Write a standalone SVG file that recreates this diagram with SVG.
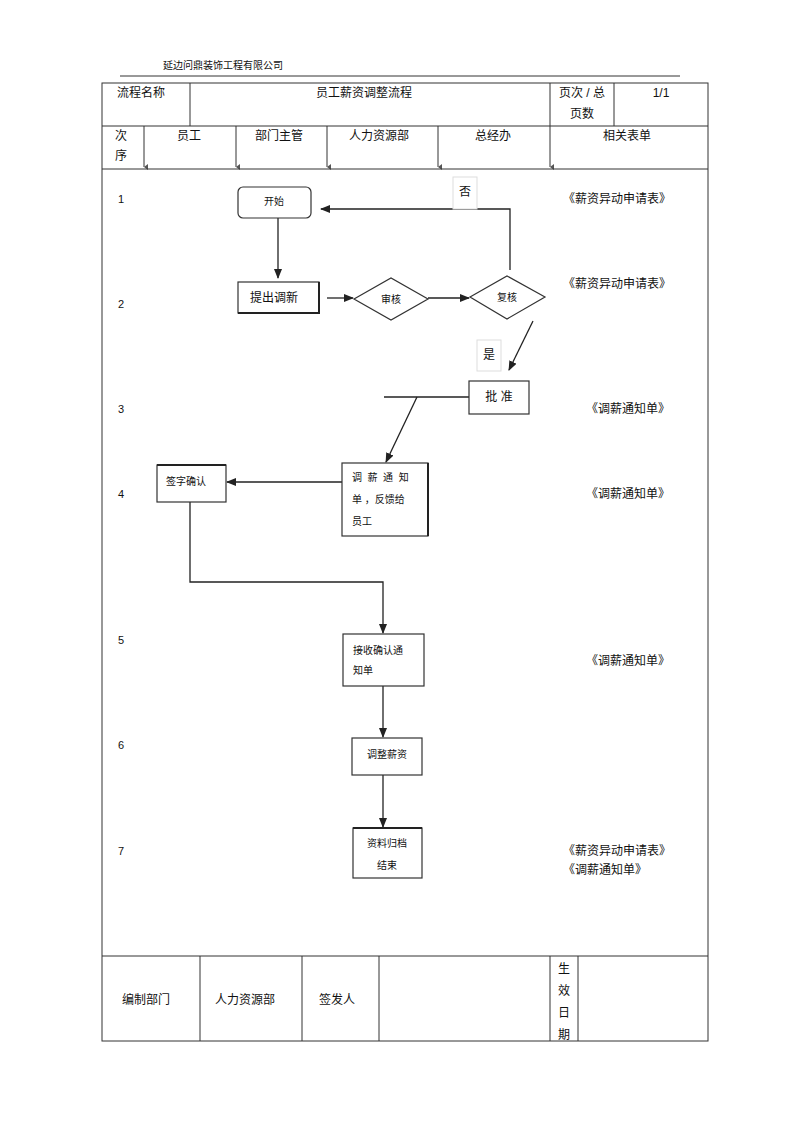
<svg xmlns="http://www.w3.org/2000/svg" width="800" height="1133" viewBox="0 0 800 1133">
<style>
text{font-family:"Liberation Sans","Noto Sans CJK SC",sans-serif;fill:#111}
.t12{font-size:12px}
.t11{font-size:11px}
.t10{font-size:10px}
.grid{stroke:#333;stroke-width:1;fill:none}
.box{fill:#fff;stroke:#333;stroke-width:1.2}
.edge{stroke:#222;stroke-width:1.3;fill:none}
.lbl{fill:#fff;stroke:#ddd;stroke-width:1}
</style>
<defs>
<marker id="ah" markerWidth="10" markerHeight="8" refX="9" refY="4" orient="auto" markerUnits="userSpaceOnUse">
<path d="M0,0 L10,4 L0,8 Z" fill="#222"/>
</marker>
<marker id="tk" markerWidth="6" markerHeight="4" refX="3" refY="4" orient="auto" markerUnits="userSpaceOnUse">
<path d="M0,0 L6,0 L3,4 Z" fill="#555"/>
</marker>
</defs>
<rect width="800" height="1133" fill="#fff"/>

<g id="header">
<text x="163" y="69" class="t10">延边问鼎装饰工程有限公司</text>
<line x1="120" y1="76" x2="680" y2="76" stroke="#333" stroke-width="1"/>
</g>

<g id="table">
<rect x="102" y="83" width="606" height="958" class="grid"/>
<line x1="190" y1="83" x2="190" y2="126" class="grid"/>
<line x1="550" y1="83" x2="550" y2="126" class="grid"/>
<line x1="614" y1="83" x2="614" y2="126" class="grid"/>
<line x1="102" y1="126" x2="708" y2="126" class="grid"/>
<line x1="144" y1="126" x2="144" y2="167" class="grid" marker-end="url(#tk)"/>
<line x1="236" y1="126" x2="236" y2="167" class="grid" marker-end="url(#tk)"/>
<line x1="327" y1="126" x2="327" y2="167" class="grid" marker-end="url(#tk)"/>
<line x1="438" y1="126" x2="438" y2="167" class="grid" marker-end="url(#tk)"/>
<line x1="550" y1="126" x2="550" y2="167" class="grid" marker-end="url(#tk)"/>
<line x1="102" y1="169" x2="708" y2="169" class="grid"/>
<line x1="102" y1="956" x2="708" y2="956" class="grid"/>
<line x1="200" y1="956" x2="200" y2="1041" class="grid"/>
<line x1="302" y1="956" x2="302" y2="1041" class="grid"/>
<line x1="379" y1="956" x2="379" y2="1041" class="grid"/>
<line x1="550" y1="956" x2="550" y2="1041" class="grid"/>
<line x1="578" y1="956" x2="578" y2="1041" class="grid"/>

<text x="117" y="97" class="t12">流程名称</text>
<text x="364" y="97" class="t12" text-anchor="middle">员工薪资调整流程</text>
<text x="559" y="97" class="t12">页次 / 总</text>
<text x="570" y="118" class="t12">页数</text>
<text x="661" y="97" class="t12" text-anchor="middle">1/1</text>
<text x="115" y="140" class="t12">次</text>
<text x="115" y="160" class="t12">序</text>
<text x="189" y="140" class="t12" text-anchor="middle">员工</text>
<text x="279" y="140" class="t12" text-anchor="middle">部门主管</text>
<text x="379" y="140" class="t12" text-anchor="middle">人力资源部</text>
<text x="493" y="140" class="t12" text-anchor="middle">总经办</text>
<text x="627" y="140" class="t12" text-anchor="middle">相关表单</text>

<text x="118" y="203" class="t11">1</text>
<text x="118" y="308" class="t11">2</text>
<text x="118" y="413" class="t11">3</text>
<text x="118" y="498" class="t11">4</text>
<text x="118" y="644" class="t11">5</text>
<text x="118" y="749" class="t11">6</text>
<text x="118" y="855" class="t11">7</text>

<text x="563" y="203" class="t12">《薪资异动申请表》</text>
<text x="563" y="288" class="t12">《薪资异动申请表》</text>
<text x="586" y="413" class="t12">《调薪通知单》</text>
<text x="586" y="498" class="t12">《调薪通知单》</text>
<text x="586" y="665" class="t12">《调薪通知单》</text>
<text x="563" y="855" class="t12">《薪资异动申请表》</text>
<text x="563" y="874" class="t12">《调薪通知单》</text>

<text x="122" y="1004" class="t12">编制部门</text>
<text x="215" y="1004" class="t12">人力资源部</text>
<text x="319" y="1004" class="t12">签发人</text>
<text x="558" y="973" class="t12">生</text>
<text x="558" y="995" class="t12">效</text>
<text x="558" y="1017" class="t12">日</text>
<text x="558" y="1039" class="t12">期</text>
</g>

<g id="connectors">
<line x1="278" y1="218" x2="278" y2="278" class="edge" marker-end="url(#ah)"/>
<line x1="327" y1="298" x2="353" y2="298" class="edge" marker-end="url(#ah)"/>
<line x1="428" y1="298" x2="469" y2="298" class="edge" marker-end="url(#ah)"/>
<polyline points="510,270 510,209 321,209" class="edge" marker-end="url(#ah)"/>
<line x1="533" y1="321" x2="509" y2="370" class="edge" marker-end="url(#ah)"/>
<line x1="384" y1="397" x2="469" y2="397" class="edge"/>
<line x1="417" y1="397" x2="386" y2="462" class="edge" marker-end="url(#ah)"/>
<line x1="342" y1="482" x2="227" y2="482" class="edge" marker-end="url(#ah)"/>
<polyline points="190,502 190,582 383,582 383,633" class="edge" marker-end="url(#ah)"/>
<line x1="383" y1="686" x2="383" y2="737" class="edge" marker-end="url(#ah)"/>
<line x1="383" y1="775" x2="383" y2="827" class="edge" marker-end="url(#ah)"/>
</g>

<g id="lbl-no">
<rect x="453" y="177" width="24" height="32" class="lbl"/>
<text x="465" y="196" class="t12" text-anchor="middle">否</text>
</g>
<g id="lbl-yes">
<rect x="477" y="340" width="24" height="31" class="lbl"/>
<text x="489" y="359" class="t12" text-anchor="middle">是</text>
</g>

<g id="n-start">
<rect x="238" y="187" width="73" height="31" rx="5" class="box"/>
<text x="274" y="205" class="t10" text-anchor="middle">开始</text>
</g>
<g id="n-propose">
<rect x="238" y="282" width="81" height="31" class="box"/>
<path d="M238,313 H319 V282" stroke="#222" stroke-width="2" fill="none"/>
<text x="250" y="302" class="t12">提出调新</text>
</g>
<g id="n-review">
<polygon points="354,299 391,278 428,299 391,320" class="box"/>
<text x="391" y="303" class="t10" text-anchor="middle">审核</text>
</g>
<g id="n-recheck">
<polygon points="470,297 507,276 545,297 507,319" class="box"/>
<text x="507" y="301" class="t10" text-anchor="middle">复核</text>
</g>
<g id="n-approve">
<rect x="469" y="381" width="60" height="33" class="box"/>
<text x="499" y="401" class="t12" text-anchor="middle">批 准</text>
</g>
<g id="n-notice">
<rect x="342" y="463" width="86" height="73" class="box"/>
<line x1="428" y1="463" x2="428" y2="536" stroke="#222" stroke-width="2"/>
<text x="352" y="481" class="t10" xml:space="preserve">调  薪  通  知</text>
<text x="352" y="503" class="t10">单 ，反馈给</text>
<text x="352" y="525" class="t10">员工</text>
</g>
<g id="n-sign">
<rect x="157" y="465" width="69" height="37" class="box"/>
<line x1="157" y1="465" x2="226" y2="465" stroke="#222" stroke-width="2"/>
<text x="166" y="485" class="t10">签字确认</text>
</g>
<g id="n-receive">
<rect x="343" y="634" width="81" height="52" class="box"/>
<text x="353" y="654" class="t10">接收确认通</text>
<text x="353" y="674" class="t10">知单</text>
</g>
<g id="n-adjust">
<rect x="352" y="738" width="70" height="37" class="box"/>
<text x="387" y="758" class="t10" text-anchor="middle">调整薪资</text>
</g>
<g id="n-archive">
<rect x="353" y="828" width="69" height="50" class="box"/>
<line x1="353" y1="828" x2="422" y2="828" stroke="#222" stroke-width="2"/>
<text x="387" y="847" class="t10" text-anchor="middle">资料归档</text>
<text x="387" y="869" class="t10" text-anchor="middle">结束</text>
</g>
</svg>
